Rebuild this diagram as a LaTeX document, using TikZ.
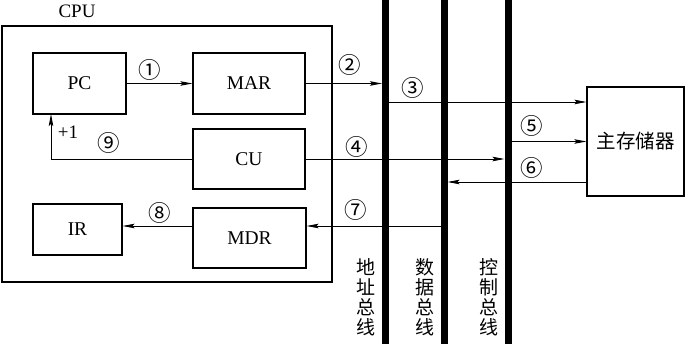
\documentclass[tikz,border=0pt]{standalone}
\usepackage{fontspec}
\setmainfont{Liberation Serif}
\newfontfamily\cjk{Noto Sans CJK SC}
\usetikzlibrary{arrows.meta}
\tikzset{
  box/.style={draw, line width=1.1pt, inner sep=0pt, font=\fontsize{19.5}{21}\selectfont},
  conn/.style={line width=0.9pt, -{Stealth[length=12pt,width=4.5pt,inset=2pt]}},
  plain/.style={line width=0.9pt},
  bus/.style={line width=7pt},
  num/.style={inner sep=0pt, font=\cjk\fontsize{22.5}{22.5}\selectfont},
  lbl/.style={inner sep=0pt, font=\fontsize{19}{20}\selectfont},
  vlab/.style={inner sep=0pt, align=center, font=\cjk\fontsize{19}{20}\selectfont},
}
\begin{document}
\begin{tikzpicture}[x=1pt,y=-1pt]
\useasboundingbox (0,0) rectangle (688,344);
% buses
\coordinate (abT) at (385.5,0); \coordinate (abB) at (385.5,344);
\coordinate (dbT) at (444,0);   \coordinate (dbB) at (444,344);
\coordinate (cbT) at (508,0);   \coordinate (cbB) at (508,344);
\draw[bus] (abT) -- (abB);
\draw[bus] (dbT) -- (dbB);
\draw[bus] (cbT) -- (cbB);
% boxes
\node[box, minimum width=330pt, minimum height=256pt] (cpu) at (167,154) {};
\node[lbl] (cpulbl) at (77,11) {CPU};
\node[box, minimum width=93pt, minimum height=61pt] (pc) at (79.5,83.5) {PC};
\node[box, minimum width=112pt, minimum height=61pt] (mar) at (249,83.5) {MAR};
\node[box, minimum width=112pt, minimum height=60pt] (cu) at (249,159) {CU};
\node[box, minimum width=89pt, minimum height=51pt] (ir) at (77.5,229.5) {IR};
\node[box, minimum width=113pt, minimum height=60pt] (mdr) at (249.5,238) {MDR};
\node[box, minimum width=97pt, minimum height=109pt, font=\cjk\fontsize{19.5}{20}\selectfont] (mem) at (635.5,141.5) {主存储器};
% connection points on buses
\coordinate (a2) at (382,83.5);
\coordinate (a3) at (389,102);
\coordinate (c4) at (504.5,159);
\coordinate (c5) at (512,141.5);
\coordinate (d6) at (447.5,182);
\coordinate (d7) at (441,226);
\coordinate (p9) at (51,114);
% connectors
\draw[conn] (pc) -- (mar);
\draw[conn] (mar.east) -- (a2);
\draw[conn] (a3) -- (a3 -| mem.west);
\draw[conn] (cu.east) -- (c4);
\draw[conn] (c5) -- (mem.west);
\draw[conn] (mem.west |- d6) -- (d6);
\draw[conn] (d7) -- (d7 -| mdr.east);
\draw[conn] (mdr.west |- d7) -- (ir.east |- d7);
\draw[conn] (cu.west) -| (p9);
% labels
\node[num] (n1) at (150,70) {①};
\node[num] (n2) at (350,65) {②};
\node[num] (n3) at (413,88) {③};
\node[num] (n4) at (357,147) {④};
\node[num] (n5) at (532,126) {⑤};
\node[num] (n6) at (532,168) {⑥};
\node[num] (n7) at (356,210) {⑦};
\node[num] (n8) at (160,213) {⑧};
\node[num] (n9) at (109,143) {⑨};
\node[lbl] (plus) at (68,132) {+1};
% bus labels
\node[vlab] (ablbl) at (366,297) {地\\址\\总\\线};
\node[vlab] (dblbl) at (425,297) {数\\据\\总\\线};
\node[vlab] (cblbl) at (489,297) {控\\制\\总\\线};
\end{tikzpicture}
\end{document}
